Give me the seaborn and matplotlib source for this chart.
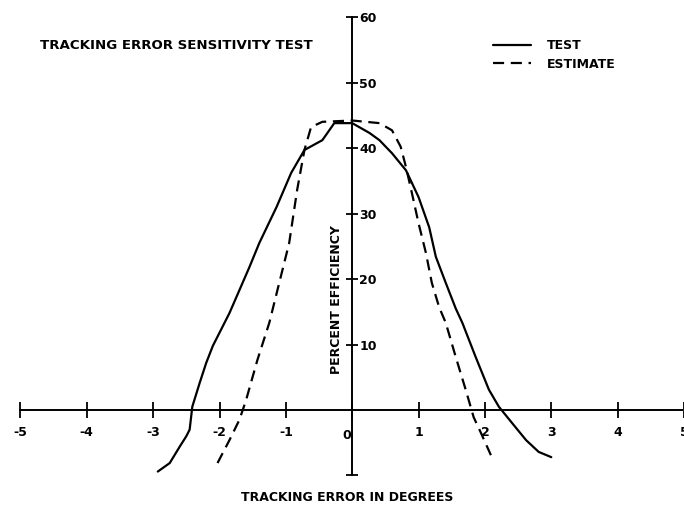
import matplotlib
matplotlib.use("Agg")
import matplotlib.pyplot as plt
import seaborn as sns

# Measured efficiency (solid) and estimated efficiency (dashed) vs tracking error
test_x = [-2.93, -2.75, -2.60, -2.50, -2.45, -2.41, -2.30, -2.20, -2.10, -2.00,
          -1.85, -1.70, -1.55, -1.40, -1.14, -0.92, -0.72, -0.45, -0.27, 0.00,
          0.26, 0.41, 0.60, 0.81, 1.00, 1.16, 1.26, 1.41, 1.56, 1.66,
          1.86, 2.06, 2.21, 2.41, 2.62, 2.81, 3.00]
test_y = [-9.4, -8.1, -5.6, -4.0, -3.0, 0.5, 4.1, 7.2, 9.8, 11.8,
          14.8, 18.3, 21.8, 25.5, 31.0, 36.2, 39.7, 41.2, 43.8, 43.8,
          42.3, 41.2, 39.2, 36.6, 32.5, 27.9, 23.4, 19.4, 15.5, 13.3,
          8.1, 3.1, 0.5, -2.0, -4.6, -6.4, -7.2]

est_x = [-2.03, -1.85, -1.70, -1.60, -1.43, -1.25, -1.10, -0.95, -0.83, -0.72,
         -0.62, -0.45, 0.00, 0.41, 0.60, 0.73, 0.81, 0.90, 1.00, 1.11,
         1.20, 1.31, 1.41, 1.56, 1.71, 1.83, 1.94, 2.09]
est_y = [-8.1, -4.6, -1.5, 1.5, 7.6, 13.3, 19.4, 25.5, 33.6, 39.7,
         43.2, 44.0, 44.2, 43.8, 42.7, 40.2, 37.1, 33.1, 28.5, 24.0,
         19.4, 15.7, 13.3, 8.1, 3.1, -1.1, -3.5, -6.9]

x_ticks = [-5, -4, -3, -2, -1, 0, 1, 2, 3, 4, 5]
x_tick_labels = ["-5", "-4", "-3", "-2", "-1", "", "1", "2", "3", "4", "5"]
y_ticks = [-10, 10, 20, 30, 40, 50, 60]
y_tick_labels = ["", "10", "20", "30", "40", "50", "60"]

sns.set_theme(style="white")
plt.rcParams["font.family"] = ["DejaVu Sans"]
plt.rcParams["font.weight"] = "bold"
plt.rcParams["text.color"] = "black"
plt.rcParams["xtick.color"] = "black"
plt.rcParams["ytick.color"] = "black"

fig = plt.figure(figsize=(6.84, 5.14), dpi=100)
ax = fig.add_axes([0, 0, 1, 1])
ax.set_facecolor("white")

xmin, xmax = -5.308, 4.977
ymin, ymax = -15.88, 62.6
ax.set_xlim(xmin, xmax)
ax.set_ylim(ymin, ymax)

line_kw = dict(sort=False, estimator=None, color="black", lw=1.6, ax=ax)
sns.lineplot(x=test_x, y=test_y, label="TEST",
             solid_joinstyle="round", **line_kw)
sns.lineplot(x=est_x, y=est_y, label="ESTIMATE",
             linestyle=(0, (5, 3)), dash_joinstyle="round", **line_kw)

# Axes crossing at the origin
ax.spines["left"].set_visible(False)
ax.spines["top"].set_visible(False)
for side in ("right", "bottom"):
    ax.spines[side].set_position(("data", 0))
    ax.spines[side].set_color("black")
    ax.spines[side].set_linewidth(1.4)
ax.spines["right"].set_bounds(-10, 60)
ax.spines["bottom"].set_bounds(-5, xmax)
ax.yaxis.tick_right()
ax.xaxis.tick_bottom()

ax.set_xticks(x_ticks)
ax.set_xticklabels(x_tick_labels)
ax.set_yticks(y_ticks)
ax.set_yticklabels(y_tick_labels)
ax.tick_params(axis="x", direction="inout", length=11, width=1.3, pad=6,
               labelsize=9, colors="black")
ax.tick_params(axis="y", direction="inout", length=8, width=1.3, pad=1,
               labelsize=9, colors="black")
ax.annotate("0", xy=(0, 0), xytext=(-4, -14), textcoords="offset points",
            ha="center", va="top", fontsize=9, fontweight="bold")

ax.text(-0.23, 16.8, "PERCENT EFFICIENCY", rotation=90, ha="center",
        va="center", fontsize=9, fontweight="bold")
ax.text(-2.65, 55.6, "TRACKING ERROR SENSITIVITY TEST", ha="center",
        va="center", fontsize=9.6, fontweight="bold")
ax.text(-0.07, -13.3, "TRACKING ERROR IN DEGREES", ha="center",
        va="center", fontsize=9, fontweight="bold")

ax.legend(loc="upper left", bbox_to_anchor=(493 / 684, 1 - 39 / 514),
          frameon=False, fontsize=9, handlelength=3.0, handletextpad=1.3,
          labelspacing=0.45, borderpad=0, borderaxespad=0)

fig.savefig("out.png", dpi=100, facecolor="white")
